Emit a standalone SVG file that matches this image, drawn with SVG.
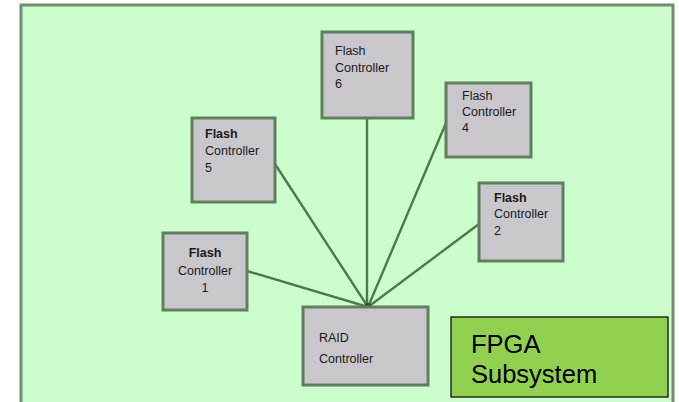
<svg xmlns="http://www.w3.org/2000/svg" width="679" height="402" viewBox="0 0 679 402">
<style>
.node rect{fill:#c9c7cb;stroke:#5f7f5f;stroke-width:3}
.node text{font-family:"Liberation Sans",Arial,sans-serif;font-size:12.5px;fill:#1a1a1a}
.conn line{stroke:#4d7a4d;stroke-width:2.4}
.fpga text{font-family:"Liberation Sans",Arial,sans-serif;font-size:25.5px;fill:#000}
</style>
<rect width="679" height="402" fill="#ffffff"/>
<rect x="21" y="5" width="652" height="410" fill="#cdfdcd" stroke="#728e72" stroke-width="3"/>
<g class="conn">
<line x1="367" y1="118" x2="367" y2="307" stroke-width="4"/>
<line x1="275" y1="164" x2="368" y2="307"/>
<line x1="446" y1="123" x2="368" y2="307"/>
<line x1="479" y1="224" x2="368" y2="307"/>
<line x1="247" y1="271" x2="368" y2="307"/>
<circle cx="368" cy="306" r="3" fill="#2f4f2f"/>
</g>
<g id="fc6" class="node">
<rect x="322" y="32" width="91" height="86"/>
<text x="335" y="55">Flash</text>
<text x="335" y="72">Controller</text>
<text x="335" y="88">6</text>
</g>
<g id="fc4" class="node">
<rect x="446" y="83" width="85" height="74"/>
<text x="462" y="100">Flash</text>
<text x="462" y="116">Controller</text>
<text x="462" y="132">4</text>
</g>
<g id="fc5" class="node">
<rect x="192" y="118" width="83" height="84"/>
<text x="205" y="138" font-weight="bold">Flash</text>
<text x="205" y="155">Controller</text>
<text x="205" y="172">5</text>
</g>
<g id="fc2" class="node">
<rect x="479" y="183" width="84" height="78"/>
<text x="494" y="202" font-weight="bold">Flash</text>
<text x="494" y="218">Controller</text>
<text x="494" y="235">2</text>
</g>
<g id="fc1" class="node">
<rect x="163" y="233" width="84" height="77"/>
<text x="205" y="257" text-anchor="middle" font-weight="bold">Flash</text>
<text x="205" y="275" text-anchor="middle">Controller</text>
<text x="205" y="292" text-anchor="middle">1</text>
</g>
<g id="raid" class="node">
<rect x="303" y="307" width="125" height="78"/>
<text x="319" y="342" font-size="16.5">RAID</text>
<text x="319" y="363" font-size="16.5">Controller</text>
</g>
<g id="fpga" class="fpga">
<rect x="451" y="317" width="217" height="80" fill="#92d050" stroke="#000" stroke-width="1.2"/>
<text x="471" y="353">FPGA</text>
<text x="471" y="383">Subsystem</text>
</g>
</svg>
